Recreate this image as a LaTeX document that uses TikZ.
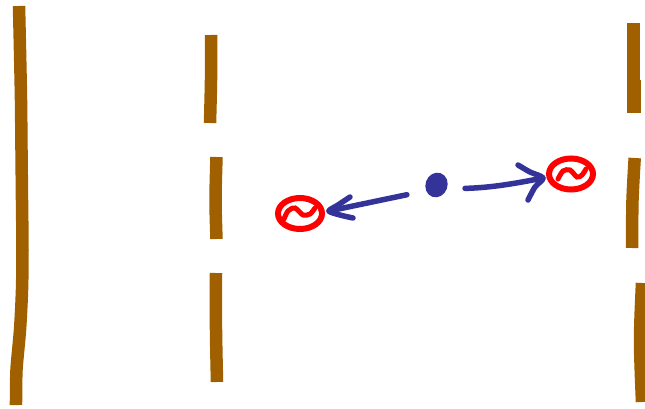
\documentclass[tikz,border=0pt]{standalone}
\usepackage{tikz}
\usetikzlibrary{shapes.geometric}
\definecolor{wallbrown}{HTML}{A06000}
\definecolor{wavesblue}{HTML}{333399}
\tikzstyle{wall}=[draw=wallbrown, line width=12.5pt, line cap=butt]
\tikzstyle{source}=[ellipse, draw=red, line width=6pt, inner sep=0pt, minimum width=44pt, minimum height=31pt]
\tikzstyle{squiggle}=[draw=red, line width=5pt, line cap=round]
\tikzstyle{wave}=[draw=wavesblue, line width=5.5pt, line cap=round, line join=round]
\newcommand{\source}{\node[source]}
\begin{document}
\begin{tikzpicture}[x=1pt, y=-1pt]
    \useasboundingbox (0,0) rectangle (645,409);
    % walls
    \draw[wall] plot[smooth] coordinates {(19,6) (20,50) (21,100) (21.5,150) (22,200) (22.5,250) (22,290) (20,330) (16.5,370) (16,405)};
    \draw[wall] plot[smooth] coordinates {(211,35) (211,80) (210,123)};
    \draw[wall] plot[smooth] coordinates {(216.5,157) (215.5,200) (216.5,239)};
    \draw[wall] plot[smooth] coordinates {(216,273) (216,330) (217,382)};
    \draw[wall] (633.5,23) -- (633.5,113);
    \draw[wall, line width=14pt] (634,80) -- (634,113);
    \draw[wall] plot[smooth] coordinates {(634.7,158) (632.5,200) (632,248)};
    \draw[wall] plot[smooth] coordinates {(642,283) (640,340) (642,402)};
    % sources and particle
    \source (s1) at (300,213.5) {};
    \source (s2) at (571,174) {};
    \node[ellipse, fill=wavesblue, inner sep=0pt, minimum width=22pt, minimum height=25pt, rotate=-20] (p) at (436.5,185) {};
    \draw[squiggle] plot[smooth] coordinates {(284,219) (288,211) (295,208) (303,215) (310,214) (315,208)};
    \draw[squiggle] plot[smooth] coordinates {(558,179) (563,171) (570,170) (577,177) (582,175) (586,169)};
    % waves going out
    \coordinate (h1) at (329,211);
    \coordinate (h2) at (543,178);
    \draw[wave, shorten <=19.5pt] (p.south west) -- (h1);
    \draw[wave, shorten <=18pt] (p.east) to[bend right=5] (h2);
    \draw[wave] plot[smooth] coordinates {(350,197) (338,205) (h1) (340,215) (353,218)};
    \draw[wave] plot[smooth] coordinates {(518,165) (530,172) (h2) (535,187) (528,200)};
\end{tikzpicture}
\end{document}
